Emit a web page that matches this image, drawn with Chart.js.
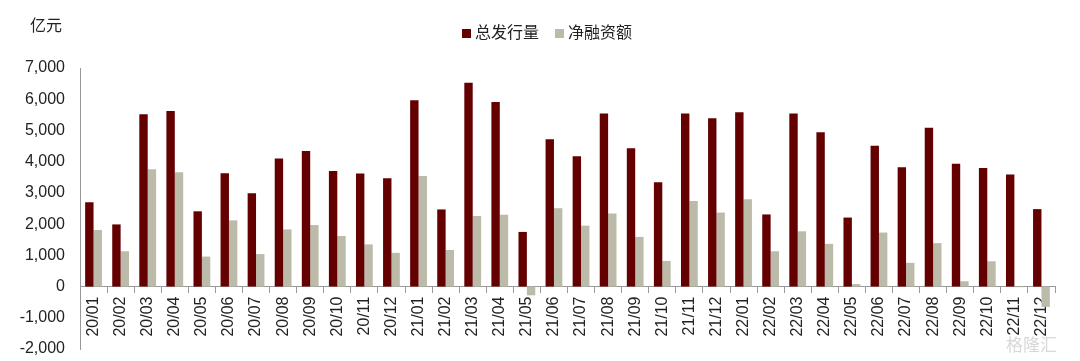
<!DOCTYPE html>
<html><head><meta charset="utf-8">
<script src="https://cdn.jsdelivr.net/npm/chart.js@4/dist/chart.umd.min.js"></script>
<style>
html,body{margin:0;padding:0;background:#fff;}
#wrap{position:relative;width:1080px;height:361px;}
#unit{position:absolute;left:30px;top:12px;font:16px "Noto Sans CJK SC",sans-serif;color:#222;}
#wm{position:absolute;left:1006px;top:331px;font:17px "Noto Sans CJK SC",sans-serif;color:#d8d8d8;}
#legend{position:absolute;left:462px;top:20px;font:16px "Noto Sans CJK SC",sans-serif;color:#222;white-space:nowrap;line-height:22px;}
#legend span.box{display:inline-block;width:9px;height:9px;margin-right:4px;vertical-align:0px;}
#legend span.item{margin-right:16px;}
</style></head>
<body><div id="wrap"><canvas id="c" width="1080" height="361"></canvas><div id="unit">亿元</div><div id="legend"></div><div id="wm">格隆汇</div></div>
<script>
const categories = ["20/01","20/02","20/03","20/04","20/05","20/06","20/07","20/08","20/09","20/10","20/11","20/12",
"21/01","21/02","21/03","21/04","21/05","21/06","21/07","21/08","21/09","21/10","21/11","21/12",
"22/01","22/02","22/03","22/04","22/05","22/06","22/07","22/08","22/09","22/10","22/11","22/12"];
const totalIssuance = [2700,1990,5520,5620,2410,3630,2990,4100,4340,3700,3620,3470,
5970,2470,6530,5910,1750,4720,4170,5540,4430,3340,5540,5390,
5580,2310,5540,4940,2210,4510,3820,5090,3930,3800,3590,2480];
const netFinancing = [1810,1130,3760,3660,960,2120,1040,1830,1970,1620,1350,1080,
3540,1170,2260,2300,-280,2510,1950,2340,1590,820,2740,2370,
2800,1130,1770,1370,80,1730,760,1390,170,810,-20,-650];
const yTicks = [-2000,-1000,0,1000,2000,3000,4000,5000,6000,7000];
const seriesNames = ["总发行量","净融资额"];
const seriesColors = ['#640000','#bcbbaa'];

const font = {family:'Arial, "Liberation Sans", "Noto Sans CJK SC", sans-serif', size:16};
const chart = new Chart(document.getElementById('c'), {
  type:'bar',
  data:{labels:categories, datasets:[
    {label:seriesNames[0], data:totalIssuance, backgroundColor:seriesColors[0], categoryPercentage:0.62, barPercentage:1},
    {label:seriesNames[1], data:netFinancing, backgroundColor:seriesColors[1], categoryPercentage:0.62, barPercentage:1}
  ]},
  options:{
    responsive:false, animation:false,
    layout:{padding:{left:0,right:25,top:68,bottom:12}},
    plugins:{legend:{display:false}, tooltip:{enabled:false}},
    scales:{
      x:{position:{y:0},
        grid:{display:true, drawOnChartArea:false, drawTicks:true, tickLength:6, offset:true, color:'#999'},
        border:{display:true, color:'#999', width:1},
        ticks:{autoSkip:false, minRotation:90, maxRotation:90, color:'#222', font:font, padding:4}
      },
      y:{min:-2000, max:7000,
        afterBuildTicks:(s)=>{s.ticks = yTicks.map(v=>({value:v}));},
        afterFit:(s)=>{s.width = 80; s.paddingTop = 0; s.paddingBottom = 0;},
        grid:{display:false, drawTicks:false},
        border:{display:true, color:'#999', width:1},
        ticks:{color:'#222', font:font, padding:15,
          callback:(v)=>v.toLocaleString('en-US')}
      }
    }
  }
});
// legend built from the chart's datasets
const lg = document.getElementById('legend');
chart.data.datasets.forEach(ds=>{
  const it = document.createElement('span'); it.className='item';
  const b = document.createElement('span'); b.className='box'; b.style.background = ds.backgroundColor;
  it.appendChild(b); it.appendChild(document.createTextNode(ds.label)); lg.appendChild(it);
});
</script></body></html>
